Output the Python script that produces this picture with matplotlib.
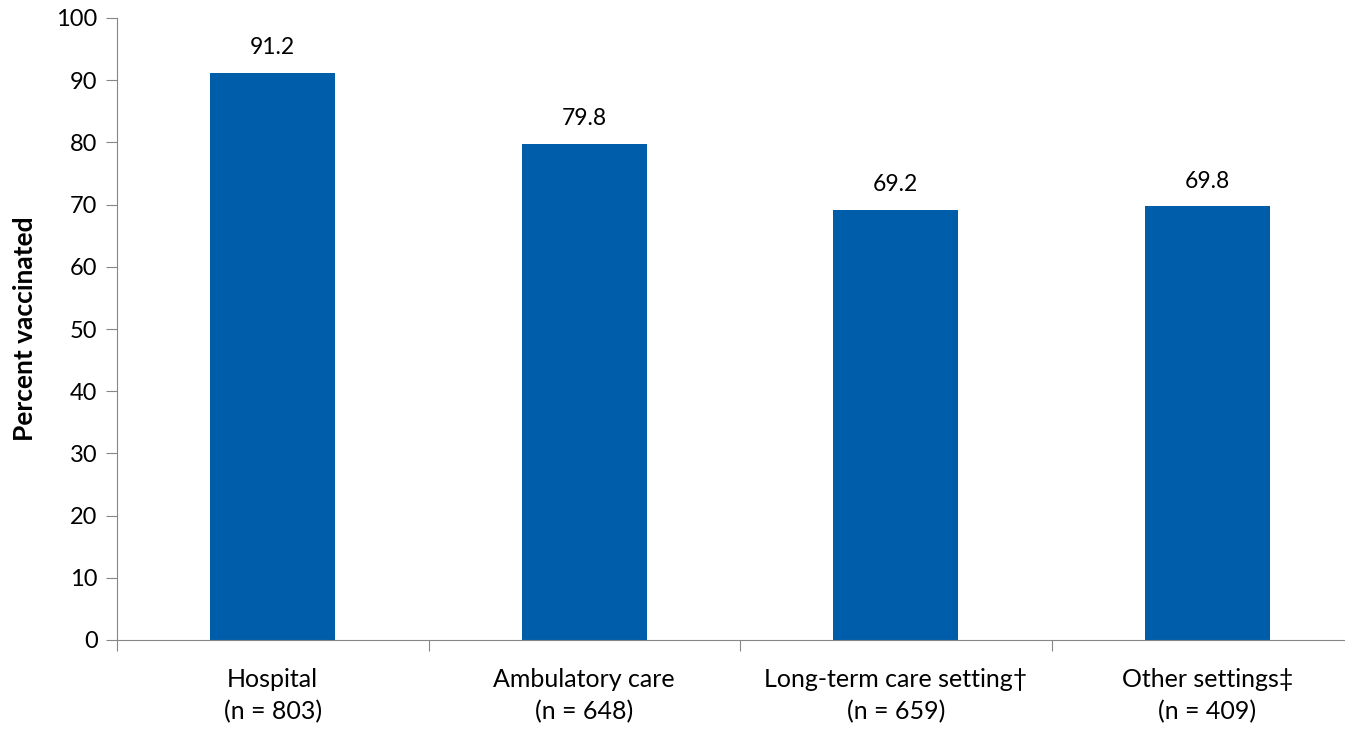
import matplotlib
matplotlib.use("Agg")
import matplotlib.pyplot as plt
import numpy as np

# data
categories = ["Hospital", "Ambulatory care", "Long-term care setting\u2020", "Other settings\u2021"]
sample_sizes = [803, 648, 659, 409]
percent_vaccinated = [91.2, 79.8, 69.2, 69.8]

plt.rcParams["font.family"] = ["Lato", "DejaVu Sans"]

bar_color = "#005DAA"
spine_color = "#868686"

fig = plt.figure(figsize=(13.45, 7.3), dpi=100)
ax = fig.add_axes([117 / 1345, 90 / 730, 1 - 117 / 1345, 622 / 730])

x = np.arange(len(categories))
ax.bar(x, percent_vaccinated, width=0.4, color=bar_color, zorder=2)

for xi, val in zip(x, percent_vaccinated):
    ax.text(xi, val + 2.3, f"{val:.1f}", ha="center", va="bottom", fontsize=16.5)

ax.set_ylim(0, 100)
ax.set_xlim(-0.5, 3.442)
ax.set_yticks(np.arange(0, 101, 10))
ax.tick_params(axis="y", labelsize=17, length=8, color=spine_color, direction="out", pad=6)

# category boundary ticks on x axis, labels centered under bars
ax.set_xticks(np.arange(-0.5, len(categories) - 0.5, 1.0))
ax.set_xticklabels([])
ax.set_xticks(x, minor=True)
ax.set_xticklabels([f"{c}\n(n = {n})" for c, n in zip(categories, sample_sizes)],
                   minor=True, fontsize=18, linespacing=1.5)
ax.tick_params(axis="x", which="major", length=8, color=spine_color)
ax.tick_params(axis="x", which="minor", length=0, pad=20)

ax.spines["top"].set_visible(False)
ax.spines["right"].set_visible(False)
ax.spines["left"].set_color(spine_color)
ax.spines["bottom"].set_color(spine_color)

ax.set_ylabel("Percent vaccinated", fontsize=19, fontweight="bold", labelpad=14)

fig.savefig("out.png", dpi=100)
